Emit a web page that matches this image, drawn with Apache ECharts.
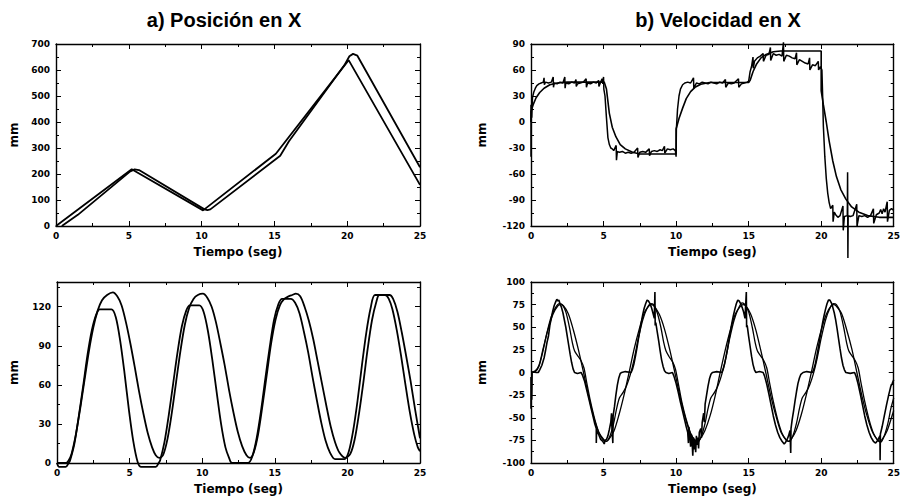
<!DOCTYPE html>
<html><head><meta charset="utf-8">
<script src="https://cdn.jsdelivr.net/npm/echarts/dist/echarts.min.js"></script>
<style>html,body{margin:0;padding:0;background:#fff}#c{width:903px;height:500px}</style>
</head><body><div id="c"></div>
<script>
const titles = ['a) Posición en X', 'b) Velocidad en X'];
const xName = 'Tiempo (seg)';
const yName = 'mm';
const xRange = [0, 25, 5];
const yRangeA = [0, 700, 100];
const yRangeB = [-120, 90, 30];
const yRangeC = [0, 139, 30];
const yRangeD = [-100, 100, 25];

// a) top: position, ramps
const posLinRef = [[0,0],[5.2,218],[10.1,60],[15.1,278],[20.1,638],[25,158]];
const posLinAct = [[0.4,0],[1.5,43],[5.1,210],[5.4,218],[5.7,215],[10.2,64],[10.4,61],[10.6,64],[15.4,270],[16,326],[19.8,618],[20.15,653],[20.4,662],[20.7,655],[25,226]];

// b) top: velocity, steps
const velStepSmooth = [[0,0],[0,12],[0.15,20],[0.35,28],[0.6,34],[0.9,39],[1.3,43],[1.8,45],[2.5,46],[5.05,46],[5.2,38],[5.4,10],[5.6,-6],[5.85,-17],[6.15,-26],[6.5,-31],[7.0,-35],[7.5,-37],[10,-37],[10,-8],[10.2,4],[10.45,16],[10.7,27],[11.0,35],[11.3,40],[11.7,43.5],[12.3,45.5],[15,45.5],[15.1,48],[15.3,58],[15.55,67],[15.85,74],[16.2,78],[16.7,81],[17.2,82],[20,82],[20,36],[20.15,20],[20.35,0],[20.55,-22],[20.8,-45],[21.05,-63],[21.35,-78],[21.7,-89],[22.1,-98],[22.6,-104],[23.2,-108],[24,-110],[25,-110]];
const velStepNoisy = [[0,-40],[0,20],[0.05,5],[0.1,28],[0.2,35],[0.3,39],[0.4,42],[0.55,44],[0.7,45],[0.85,46],[0.9,51],[0.92,43],[1.0,46],[1.2,45],[1.4,46],[1.53,52],[1.55,40],[1.6,45],[1.8,44],[2.0,46],[2.2,45],[2.33,52],[2.35,39],[2.4,45],[2.6,44],[2.8,46],[3.0,45],[3.1,49],[3.12,41],[3.2,44],[3.4,45],[3.6,46],[3.8,50],[3.82,40],[3.9,45],[4.1,44],[4.3,46],[4.5,45],[4.66,48],[4.68,41],[4.8,46],[4.9,50],[4.95,44],[5.0,52],[5.02,38],[5.1,30],[5.2,5],[5.3,-18],[5.4,-26],[5.5,-30],[5.6,-31],[5.7,-33],[5.87,-27],[5.89,-44],[5.95,-34],[6.1,-35],[6.3,-34],[6.5,-36],[6.7,-35],[6.9,-36],[7.1,-35],[7.35,-30],[7.37,-41],[7.5,-35],[7.7,-34],[7.9,-35],[8.15,-31],[8.17,-39],[8.3,-34],[8.5,-33],[8.7,-34],[8.9,-32],[9.05,-33],[9.2,-28],[9.22,-36],[9.4,-31],[9.6,-32],[9.8,-31],[9.95,-33],[10.0,-40],[10.02,-8],[10.1,15],[10.2,30],[10.3,38],[10.45,43],[10.6,45],[10.8,46],[11.0,45],[11.2,51],[11.22,39],[11.4,45],[11.6,44],[11.8,46],[12.0,45],[12.2,44],[12.4,46],[12.6,45],[12.8,44],[13.0,46],[13.2,45],[13.4,49],[13.42,40],[13.6,45],[13.8,44],[14.0,45],[14.3,50],[14.32,40],[14.5,44],[14.7,45],[14.9,46],[15.0,47],[15.1,58],[15.2,64],[15.3,75],[15.32,62],[15.4,70],[15.6,74],[15.8,76],[16.0,79],[16.02,70],[16.2,77],[16.4,78],[16.5,86],[16.52,71],[16.7,79],[16.9,77],[17.1,78],[17.3,76],[17.4,92],[17.42,70],[17.6,77],[17.8,76],[18.0,74],[18.2,73],[18.3,80],[18.32,66],[18.5,72],[18.7,70],[18.9,68],[19.1,67],[19.2,74],[19.22,60],[19.4,66],[19.6,65],[19.8,70],[19.82,60],[19.95,64],[20.05,60],[20.1,30],[20.15,-5],[20.25,-40],[20.35,-65],[20.45,-82],[20.55,-93],[20.65,-100],[20.8,-96],[20.82,-115],[20.9,-104],[21.0,-107],[21.15,-110],[21.3,-108],[21.5,-97],[21.52,-125],[21.6,-109],[21.8,-108],[21.82,-58],[21.84,-157],[21.86,-108],[22.0,-109],[22.2,-108],[22.45,-95],[22.47,-120],[22.6,-108],[22.8,-109],[23.0,-108],[23.2,-110],[23.4,-108],[23.6,-100],[23.62,-117],[23.8,-107],[24.0,-105],[24.1,-101],[24.2,-106],[24.3,-100],[24.4,-104],[24.55,-92],[24.57,-115],[24.7,-102],[24.85,-100],[25,-102]];

// c) bottom-left: position, periodic
const posSinRef = [[0,0],[0.15,-3],[0.6,-3],[0.8,0],[0.9,2],[1.2,15],[1.5,36],[1.8,59],[2.1,83],[2.4,102],[2.7,114],[2.95,118],[3.75,118],[4.05,112],[4.35,94],[4.65,69],[4.95,41],[5.25,17],[5.55,1],[5.8,-3],[6.8,-3],[7.0,0],[7.1,2],[7.4,16],[7.7,37],[8.0,61],[8.3,85],[8.6,105],[8.9,117],[9.15,121],[9.8,121],[10.1,116],[10.4,101],[10.7,79],[11.0,54],[11.3,30],[11.6,12],[11.85,4],[12.05,0],[13.15,0],[13.45,5],[13.75,19],[14.05,40],[14.35,65],[14.65,89],[14.95,110],[15.25,122],[15.5,126],[16.1,126],[16.4,123],[16.7,115],[17.0,101],[17.3,85],[17.6,66],[17.9,48],[18.2,31],[18.5,17],[18.8,8],[19.15,3],[19.8,3],[20.1,9],[20.4,25],[20.7,48],[21.0,75],[21.3,100],[21.6,119],[21.9,129],[22.6,129],[22.85,126],[23.1,118],[23.4,102],[23.7,82],[24.0,60],[24.3,39],[24.6,22],[24.85,12],[25,9]];
const posSinAct = [[0,0],[0.3,0],[0.6,0],[0.8,2],[1.0,7],[1.3,22],[1.6,42],[1.9,64],[2.2,86],[2.5,104],[2.8,117],[3.1,125],[3.45,129],[3.85,131],[4.15,128],[4.45,121],[4.75,108],[5.05,92],[5.35,74],[5.65,55],[5.95,38],[6.25,23],[6.55,12],[6.8,6],[7.05,4],[7.3,6],[7.6,18],[7.9,38],[8.2,62],[8.5,86],[8.8,106],[9.1,119],[9.4,126],[9.7,129],[10.05,130],[10.35,127],[10.65,120],[10.95,108],[11.25,92],[11.55,75],[11.85,56],[12.15,39],[12.45,24],[12.75,13],[13.05,6],[13.3,4],[13.55,8],[13.85,22],[14.15,44],[14.45,68],[14.75,92],[15.05,110],[15.35,121],[15.65,126],[15.95,128],[16.2,129],[16.45,130],[16.75,128],[17.05,120],[17.35,109],[17.65,95],[17.95,78],[18.25,61],[18.55,44],[18.85,28],[19.15,16],[19.45,8],[19.84,4],[20.2,7],[20.5,18],[20.8,38],[21.1,62],[21.4,88],[21.7,110],[22.0,124],[22.2,129],[22.9,129],[23.15,126],[23.45,116],[23.75,100],[24.05,82],[24.35,63],[24.65,42],[25,19]];

// d) bottom-right: velocity, periodic
const velSinRef = [[0,0],[0.3,2],[0.55,8],[0.83,26],[1.18,48],[1.53,65],[1.87,74],[2.05,75],[2.22,74],[2.57,65],[2.92,47],[3.27,25],[3.62,0],[3.97,-26],[4.32,-49],[4.67,-66],[5.01,-74],[5.19,-76],[5.36,-74],[5.71,-65],[6.06,-47],[6.41,-25],[6.76,0],[7.11,26],[7.46,48],[7.81,66],[8.15,74],[8.33,75],[8.5,73],[8.85,64],[9.2,48],[9.55,26],[9.9,1],[10.25,-25],[10.6,-48],[10.95,-66],[11.29,-75],[11.47,-76],[11.64,-74],[11.99,-64],[12.34,-48],[12.69,-26],[13.04,0],[13.39,25],[13.74,47],[14.09,65],[14.43,73],[14.61,75],[14.78,74],[15.13,65],[15.48,48],[15.83,25],[16.18,0],[16.53,-26],[16.88,-48],[17.23,-66],[17.57,-74],[17.75,-76],[17.92,-74],[18.27,-64],[18.62,-47],[18.97,-25],[19.32,0],[19.67,26],[20.02,48],[20.37,65],[20.71,74],[20.89,75],[21.06,73],[21.41,65],[21.76,47],[22.11,26],[22.46,0],[22.81,-26],[23.16,-48],[23.51,-65],[23.85,-74],[24.03,-76],[24.2,-74],[24.55,-64],[24.9,-47],[25,-42]];
const velSinShoulder = [[0,0],[0.3,1],[0.55,7],[0.8,22],[1.1,44],[1.4,62],[1.7,72],[1.95,76],[2.15,75],[2.4,67],[2.65,50],[2.85,33],[3.0,24],[3.2,19],[3.45,13],[3.65,5],[3.85,-12],[4.1,-32],[4.4,-52],[4.7,-67],[5.0,-75],[5.2,-76],[5.45,-70],[5.7,-56],[5.9,-40],[6.1,-28],[6.35,-22],[6.6,-14],[6.85,-2],[7.1,14],[7.4,38],[7.7,58],[8.0,71],[8.25,76],[8.45,75],[8.7,66],[8.95,50],[9.15,33],[9.3,24],[9.5,18],[9.75,12],[9.95,4],[10.15,-12],[10.4,-33],[10.7,-52],[11.0,-67],[11.3,-75],[11.5,-77],[11.75,-70],[12.0,-56],[12.2,-40],[12.4,-28],[12.65,-22],[12.9,-14],[13.15,-2],[13.4,14],[13.7,38],[14.0,58],[14.3,71],[14.55,77],[14.75,75],[15.0,67],[15.25,50],[15.45,33],[15.6,24],[15.8,19],[16.05,13],[16.25,5],[16.45,-12],[16.7,-32],[17.0,-52],[17.3,-67],[17.6,-75],[17.8,-76],[18.05,-70],[18.3,-56],[18.5,-40],[18.7,-28],[18.95,-22],[19.2,-14],[19.45,-2],[19.7,14],[20.0,38],[20.3,58],[20.6,71],[20.85,76],[21.05,75],[21.3,67],[21.55,50],[21.75,33],[21.9,24],[22.1,19],[22.35,13],[22.55,5],[22.75,-12],[23.0,-32],[23.3,-52],[23.6,-67],[23.9,-75],[24.1,-77],[24.35,-70],[24.6,-56],[24.8,-40],[25,-28]];
const velSinNoisy = [[0,-40],[0,-5],[0.05,-30],[0.08,0],[0.2,1],[0.35,0],[0.5,0],[0.6,3],[0.75,8],[0.9,16],[1.0,24],[1.1,33],[1.2,40],[1.3,52],[1.4,60],[1.5,68],[1.6,74],[1.7,78],[1.78,81],[1.85,79],[1.92,80],[2.0,76],[2.1,72],[2.2,66],[2.3,58],[2.4,50],[2.5,40],[2.6,30],[2.7,20],[2.8,11],[2.9,4],[3.0,0],[3.2,-1],[3.45,0],[3.55,-3],[3.7,-10],[3.85,-20],[4.0,-30],[4.15,-40],[4.3,-50],[4.4,-57],[4.5,-62],[4.5,-78],[4.52,-64],[4.65,-68],[4.8,-74],[4.95,-76],[5.05,-79],[5.1,-75],[5.2,-74],[5.3,-70],[5.4,-63],[5.5,-55],[5.55,-45],[5.57,-58],[5.64,-78],[5.66,-48],[5.75,-38],[5.85,-25],[5.95,-14],[6.05,-6],[6.15,-1],[6.25,0],[6.5,1],[6.9,0],[7.0,4],[7.1,10],[7.2,18],[7.3,27],[7.4,37],[7.5,46],[7.6,55],[7.7,64],[7.8,71],[7.9,76],[8.0,80],[8.1,79],[8.2,76],[8.3,72],[8.4,66],[8.5,60],[8.54,89],[8.56,52],[8.6,55],[8.7,45],[8.8,35],[8.9,24],[9.0,14],[9.1,7],[9.2,2],[9.3,0],[9.5,-1],[9.75,0],[9.85,-4],[10.0,-12],[10.15,-22],[10.3,-33],[10.45,-43],[10.6,-53],[10.7,-60],[10.8,-66],[10.85,-78],[10.88,-60],[10.95,-70],[11.0,-82],[11.05,-68],[11.1,-75],[11.15,-92],[11.2,-72],[11.25,-85],[11.3,-74],[11.35,-88],[11.4,-70],[11.45,-80],[11.5,-72],[11.55,-84],[11.6,-66],[11.7,-62],[11.75,-72],[11.8,-55],[11.9,-45],[11.95,-55],[12.0,-35],[12.1,-25],[12.2,-15],[12.3,-7],[12.4,-2],[12.5,0],[12.8,1],[13.15,0],[13.25,4],[13.35,10],[13.45,18],[13.55,27],[13.65,37],[13.75,46],[13.85,55],[13.95,63],[14.05,70],[14.15,76],[14.25,80],[14.35,79],[14.45,76],[14.55,72],[14.65,67],[14.75,60],[14.84,89],[14.86,50],[14.9,52],[15.0,40],[15.1,29],[15.2,18],[15.3,9],[15.4,3],[15.5,0],[15.75,1],[16.0,0],[16.1,-4],[16.25,-13],[16.4,-24],[16.55,-36],[16.7,-48],[16.85,-58],[17.0,-66],[17.15,-72],[17.3,-76],[17.45,-79],[17.55,-77],[17.65,-74],[17.75,-70],[17.85,-64],[17.9,-89],[17.92,-62],[18.0,-52],[18.1,-42],[18.2,-31],[18.3,-21],[18.4,-12],[18.5,-6],[18.6,-2],[18.75,0],[19.0,1],[19.4,0],[19.5,4],[19.6,10],[19.7,18],[19.8,27],[19.9,37],[20.0,46],[20.1,55],[20.2,63],[20.3,70],[20.4,76],[20.5,80],[20.6,80],[20.7,77],[20.8,72],[20.9,66],[21.0,58],[21.1,48],[21.2,37],[21.3,26],[21.4,16],[21.5,8],[21.6,3],[21.7,0],[22.0,-1],[22.3,0],[22.4,-4],[22.55,-13],[22.7,-24],[22.85,-36],[23.0,-48],[23.15,-58],[23.3,-66],[23.45,-72],[23.6,-76],[23.75,-78],[23.85,-76],[23.95,-73],[24.05,-70],[24.06,-97],[24.08,-68],[24.2,-60],[24.35,-48],[24.5,-36],[24.65,-25],[24.8,-15],[24.9,-12],[25,-8]];

const chart = echarts.init(document.getElementById('c'), null, {renderer: 'svg'});
const ink = '#000';
const labelStyle = {color: ink, fontSize: 9, fontWeight: 'bold', fontFamily: 'DejaVu Sans'};
const nameStyle = {color: ink, fontSize: 12, fontWeight: 'bold', fontFamily: 'DejaVu Sans'};
const grids = [
  {left: 56, top: 44, width: 364, height: 182},
  {left: 531, top: 44, width: 365, height: 182},
  {left: 57, top: 282, width: 363, height: 181},
  {left: 531, top: 282, width: 365, height: 181}
];
const yRanges = [yRangeA, yRangeB, yRangeC, yRangeD];
const yNameGaps = [36, 43, 37, 43];

function axisBase(gi, r) {
  return {
    type: 'value', gridIndex: gi, min: r[0], max: r[1], interval: r[2],
    splitLine: {show: false},
    axisLine: {show: true, onZero: false, lineStyle: {color: ink, width: 1.4}},
    axisTick: {show: true, inside: true, length: 5, lineStyle: {color: ink, width: 1}},
    minorTick: {show: true, splitNumber: 2, length: 3, lineStyle: {color: ink, width: 1}}
  };
}
const xAxes = [], yAxes = [];
grids.forEach((g, gi) => {
  xAxes.push(Object.assign(axisBase(gi, xRange), {
    position: 'bottom',
    axisLabel: Object.assign({margin: 5}, labelStyle),
    name: xName, nameLocation: 'middle', nameGap: 20, nameTextStyle: nameStyle
  }));
  xAxes.push(Object.assign(axisBase(gi, xRange), {position: 'top', axisLabel: {show: false}}));
  yAxes.push(Object.assign(axisBase(gi, yRanges[gi]), {
    position: 'left',
    axisLabel: Object.assign({margin: 6, showMaxLabel: gi !== 2}, labelStyle),
    name: yName, nameLocation: 'middle', nameGap: yNameGaps[gi], nameTextStyle: nameStyle
  }));
  yAxes.push(Object.assign(axisBase(gi, yRanges[gi]), {position: 'right', axisLabel: {show: false}}));
});

function line(gi, data, opts) {
  return Object.assign({
    type: 'line', xAxisIndex: gi * 2, yAxisIndex: gi * 2, data: data,
    showSymbol: false, symbol: 'none', clip: false, animation: false,
    lineStyle: {color: ink, width: 1.8}
  }, opts || {});
}

chart.setOption({
  backgroundColor: '#fff',
  animation: false,
  title: [
    {text: titles[0], left: 219, top: 5, textAlign: 'center', textStyle: {color: ink, fontSize: 20, fontWeight: 'bold', fontFamily: 'Liberation Sans'}},
    {text: titles[1], left: 713, top: 5, textAlign: 'center', textStyle: {color: ink, fontSize: 20, fontWeight: 'bold', fontFamily: 'Liberation Sans'}}
  ],
  grid: grids,
  xAxis: xAxes,
  yAxis: yAxes,
  series: [
    line(0, posLinRef),
    line(0, posLinAct),
    line(1, velStepSmooth, {lineStyle: {color: ink, width: 1.6}}),
    line(1, velStepNoisy, {lineStyle: {color: ink, width: 1.5}}),
    line(2, posSinRef, {smooth: 0.3}),
    line(2, posSinAct, {smooth: 0.3}),
    line(3, velSinRef, {smooth: 0.3, lineStyle: {color: ink, width: 1.3}}),
    line(3, velSinShoulder, {smooth: 0.3, lineStyle: {color: ink, width: 1.3}}),
    line(3, velSinNoisy, {lineStyle: {color: ink, width: 1.6}})
  ]
});
</script>
</body></html>
